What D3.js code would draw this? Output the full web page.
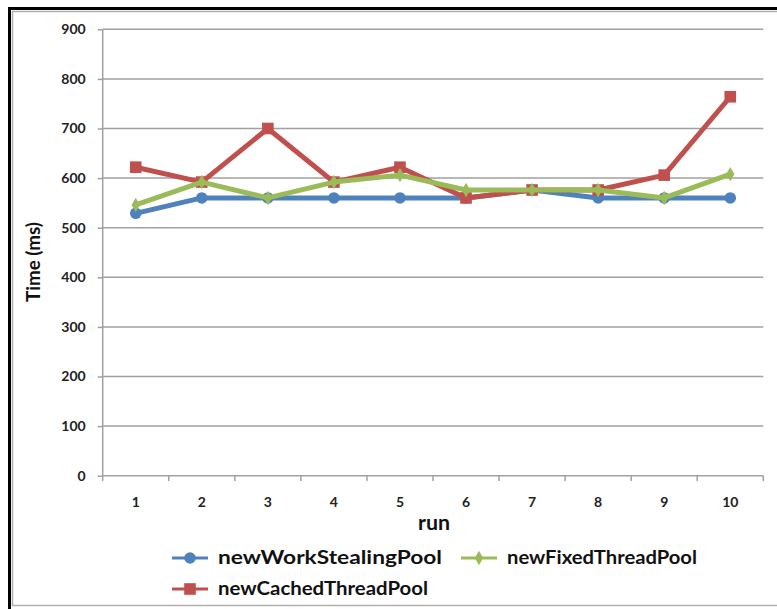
<!DOCTYPE html>
<html><head><meta charset="utf-8">
<script src="https://cdn.jsdelivr.net/npm/d3@7"></script>
<style>body{margin:0;background:#fff}svg{display:block}</style>
</head><body>
<script>
const runs = ["1","2","3","4","5","6","7","8","9","10"];
const workStealing = [529, 560, 560, 560, 560, 560, 576, 560, 560, 560];
const fixedThread  = [546, 592, 560, 592, 606, 576, 576, 576, 560, 608];
const cachedThread = [622, 592, 700, 592, 622, 560, 576, 576, 606, 764];
const yTicks = [0,100,200,300,400,500,600,700,800,900];
const seriesNames = ["newWorkStealingPool","newFixedThreadPool","newCachedThreadPool"];

const W=777,H=609;
const svg=d3.select("body").append("svg").attr("width",W).attr("height",H);
const font="Lato, 'Open Sans', sans-serif";

// frame
svg.append("line").attr("x1",8).attr("x2",W).attr("y1",8.5).attr("y2",8.5).attr("stroke","#000").attr("stroke-width",3);
svg.append("line").attr("x1",9.5).attr("x2",9.5).attr("y1",7).attr("y2",H).attr("stroke","#000").attr("stroke-width",3);
svg.append("line").attr("x1",12).attr("x2",W).attr("y1",11.5).attr("y2",11.5).attr("stroke","#b0b0b0").attr("stroke-width",1.5);
svg.append("line").attr("x1",12.5).attr("x2",12.5).attr("y1",11).attr("y2",606).attr("stroke","#b0b0b0").attr("stroke-width",1.5);
svg.append("line").attr("x1",12).attr("x2",W).attr("y1",605.5).attr("y2",605.5).attr("stroke","#b0b0b0").attr("stroke-width",1.5);

const x=d3.scaleBand().domain(runs).range([102.7,763.3]);
const y=d3.scaleLinear().domain([0,900]).range([475.7,29.3]);

// gridlines
svg.append("g").selectAll("line").data(yTicks.filter(d=>d>0)).join("line")
  .attr("x1",102.7).attr("x2",763.3).attr("y1",d=>y(d)).attr("y2",d=>y(d))
  .attr("stroke","#a0a0a0").attr("stroke-width",1.5);

// y axis
const ya=svg.append("g").attr("transform","translate(102.7,0)")
  .call(d3.axisLeft(y).tickValues(yTicks).tickSize(5).tickPadding(12));
ya.select(".domain").attr("stroke","#a0a0a0").attr("stroke-width",1.5).attr("d","M0,29.3V475.7");
ya.selectAll(".tick line").attr("stroke","#a0a0a0").attr("stroke-width",1.5);
ya.selectAll("text").attr("font-family",font).attr("font-size",14).attr("font-weight","bold").attr("fill","#222");

// x axis
const xa=svg.append("g").attr("transform","translate(0,475.7)")
  .call(d3.axisBottom(x).tickSize(0).tickPadding(21));
xa.select(".domain").attr("stroke","#a0a0a0").attr("stroke-width",1.5).attr("d","M102.7,0H763.3");
xa.selectAll("text").attr("font-family",font).attr("font-size",14).attr("font-weight","bold").attr("fill","#222");
const bounds=runs.map(r=>x(r)).concat([x(runs[runs.length-1])+x.bandwidth()]);
svg.append("g").selectAll("line").data(bounds).join("line")
  .attr("x1",d=>d).attr("x2",d=>d).attr("y1",475.7).attr("y2",481)
  .attr("stroke","#a0a0a0").attr("stroke-width",1.5);

// axis titles
svg.append("text").attr("x",434).attr("y",530).attr("text-anchor","middle")
  .attr("font-family",font).attr("font-size",20).attr("font-weight","bold").attr("fill","#111")
  .attr("textLength",32).attr("lengthAdjust","spacingAndGlyphs").text("run");
svg.append("text").attr("transform","translate(40,262) rotate(-90)").attr("text-anchor","middle")
  .attr("font-family",font).attr("font-size",19).attr("font-weight","bold").attr("fill","#111")
  .attr("textLength",80).attr("lengthAdjust","spacingAndGlyphs").text("Time (ms)");

const colors=["#4F81BD","#9BBB59","#C0504D"];
const data=[workStealing,fixedThread,cachedThread];
const cx=r=>x(r)+x.bandwidth()/2;
const line=d3.line().x((d,i)=>cx(runs[i])).y(d=>y(d));

function marker(g,k,color){
  if(k===0) g.append("circle").attr("r",5.8).attr("fill",color);
  else if(k===1) g.append("path").attr("d",d3.symbol(d3.symbolDiamond,60)()).attr("fill",color);
  else g.append("rect").attr("x",-5.8).attr("y",-5.8).attr("width",11.6).attr("height",11.6).attr("fill",color);
}

const order=[0,2,1];
order.forEach(k=>{
  svg.append("path").datum(data[k]).attr("d",line).attr("fill","none")
    .attr("stroke",colors[k]).attr("stroke-width",5).attr("stroke-linejoin","round");
  data[k].forEach((v,i)=>{
    const g=svg.append("g").attr("transform",`translate(${cx(runs[i])},${y(v)})`);
    marker(g,k,colors[k]);
  });
});

// legend
const legendPos=[[172,558],[461,558],[172,589]];
const legendLen=[224,190,210];
seriesNames.forEach((n,k)=>{
  const [lx,ly]=legendPos[k];
  svg.append("line").attr("x1",lx).attr("x2",lx+36).attr("y1",ly).attr("y2",ly).attr("stroke",colors[k]).attr("stroke-width",3);
  const g=svg.append("g").attr("transform",`translate(${lx+18},${ly})`);
  marker(g,k,colors[k]);
  svg.append("text").attr("x",lx+46).attr("y",ly+6).attr("font-family",font).attr("font-size",19)
    .attr("font-weight","bold").attr("fill","#111")
    .attr("textLength",legendLen[k]).attr("lengthAdjust","spacingAndGlyphs").text(n);
});
</script>
</body></html>
